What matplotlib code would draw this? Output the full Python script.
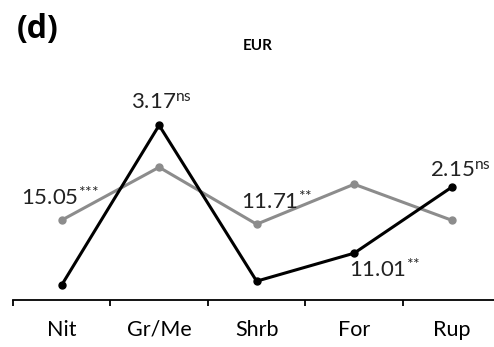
import matplotlib.pyplot as plt

plt.rcParams['font.family'] = ['Lato', 'DejaVu Sans']
plt.rcParams['mathtext.fontset'] = 'custom'
plt.rcParams['mathtext.rm'] = 'Lato'
plt.rcParams['mathtext.it'] = 'Lato'

habitats = ['Nit', 'Gr/Me', 'Shrb', 'For', 'Rup']
grey_vals = [80, 133, 76, 116, 80]
black_vals = [15, 175, 19, 47, 113]

# F values with significance, attached to one of the points
stats = ['15.05', '3.17', '11.71', '11.01', '2.15']
signif = ['***', 'ns', '**', '**', 'ns']
on_black = [False, True, False, True, True]
offsets = [(-1.5, 16.5), (2, 16), (14.5, 16.5), (22, -12), (6.5, 12)]

fig = plt.figure(figsize=(4.94, 3.47), dpi=100)
ax = fig.add_axes([0.026, 0.135, 0.987, 0.576])

x = list(range(len(habitats)))
ax.plot(x, grey_vals, '-o', color='#8c8c8c', lw=2.2, ms=5)
ax.plot(x, black_vals, '-o', color='black', lw=2.2, ms=5)

for i in range(len(habitats)):
    y = black_vals[i] if on_black[i] else grey_vals[i]
    ax.annotate(stats[i] + r'$^{\text{' + signif[i] + '}}$', (i, y),
                xytext=offsets[i], textcoords='offset points',
                ha='center', va='center', fontsize=16, color='#222222')

ax.set_xlim(-0.5, 4.5)
ax.set_ylim(0, 200)
ax.set_xticks([i - 0.5 for i in range(6)])
ax.set_xticklabels([])
ax.set_xticks(x, minor=True)
ax.set_xticklabels(habitats, minor=True, fontsize=15.5)
ax.tick_params(axis='x', which='major', direction='out', length=4.5, width=1.3)
ax.tick_params(axis='x', which='minor', length=0, pad=14)
ax.set_yticks([])
for s in ['left', 'right', 'top']:
    ax.spines[s].set_visible(False)
ax.spines['bottom'].set_linewidth(1.3)

fig.text(0.033, 0.962, '(d)', fontsize=23, fontweight='bold', family='Open Sans', va='top')
fig.text(0.522, 0.855, 'EUR', fontsize=11, fontweight='bold', ha='center')

fig.savefig('out.png', dpi=100)
